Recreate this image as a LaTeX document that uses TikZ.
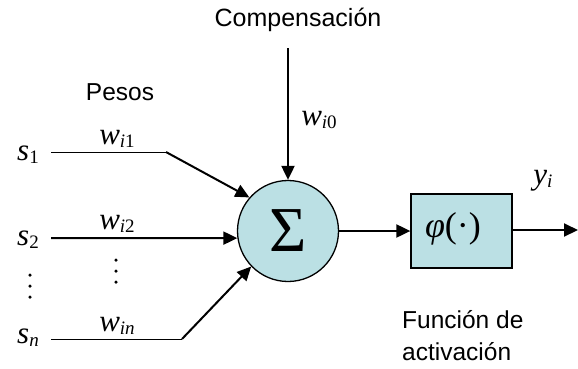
\documentclass[tikz,border=0pt]{standalone}
\usepackage{fontspec}
\setmainfont{Liberation Sans}
\newfontfamily\tms{Liberation Serif}
\usetikzlibrary{arrows.meta}
\definecolor{fillblue}{RGB}{187,224,228}
\newcommand{\mvar}[2]{{\tms\fontsize{31}{31}\selectfont\itshape #1}\raisebox{-0.3em}{\tms\fontsize{19}{19}\selectfont #2}}
\begin{document}
\begin{tikzpicture}[x=1pt,y=-1pt,
  thinline/.style={line width=1pt},
  arr/.style={line width=2pt,-{Triangle[length=14pt,width=13pt]}},
  lbl/.style={inner sep=0pt,font=\fontsize{24.5}{30}\selectfont},
  dotmark/.style={fill=black,draw=none,circle,inner sep=0pt,minimum size=3.5pt}]
\useasboundingbox (0,0) rectangle (578,368);
\node[circle,draw,line width=1.3pt,fill=fillblue,minimum size=101pt,inner sep=0pt] (S) at (288,231) {\tms\fontsize{64}{64}\selectfont\raisebox{-2pt}{Σ}};
\node[draw,line width=1.3pt,fill=fillblue,minimum width=101pt,minimum height=74pt,inner sep=0pt] (P) at (461.5,231) {};
\node[inner sep=0pt] (phi) at (453,229) {\tms\fontsize{36}{36}\selectfont\itshape φ\upshape(·)};
\coordinate (a1) at (51,152);
\coordinate (b1) at (166,152);
\coordinate (a2) at (51,238);
\coordinate (an) at (51,339);
\coordinate (bn) at (182,339);
\coordinate (top) at (288,48);
\coordinate (out) at (578,230);
\draw[thinline] (a1) -- (b1);
\draw[arr] (b1) -- (S.139);
\draw[arr] (a2) -- (S.188);
\draw[thinline] (an) -- (bn);
\draw[arr] (bn) -- (S.224);
\draw[arr] (top) -- (S.north);
\draw[arr] (S.east) -- (S.east -| P.west);
\draw[arr] (P.east |- out) -- (out);
\node[inner sep=0pt] (s1) at (28,155) {\mvar{s}{1}};
\node[inner sep=0pt] (s2) at (28,240) {\mvar{s}{2}};
\node[inner sep=0pt] (sn) at (28,338) {\mvar{s}{\itshape n}};
\node[inner sep=0pt] (w1) at (117,139) {\mvar{w}{\itshape i\upshape 1}};
\node[inner sep=0pt] (w2) at (117,224) {\mvar{w}{\itshape i\upshape 2}};
\node[inner sep=0pt] (wn) at (117,326) {\mvar{w}{\itshape in}};
\node[inner sep=0pt] (w0) at (319,120) {\mvar{w}{\itshape i\upshape 0}};
\node[inner sep=0pt] (yi) at (543,181) {\mvar{y}{\itshape i}};
\foreach \yy in {275,286,297} \node[dotmark] at (30,\yy) {};
\foreach \yy in {260,271,282} \node[dotmark] at (116,\yy) {};
\node[lbl] (pesos) at (120,92) {Pesos};
\node[lbl,font=\fontsize{25}{30}\selectfont] (comp) at (298,20) {Compensación};
\node[lbl,anchor=west,align=left,font=\fontsize{24.5}{32}\selectfont] (fa) at (402,336) {Función de\\activación};
\end{tikzpicture}
\end{document}
